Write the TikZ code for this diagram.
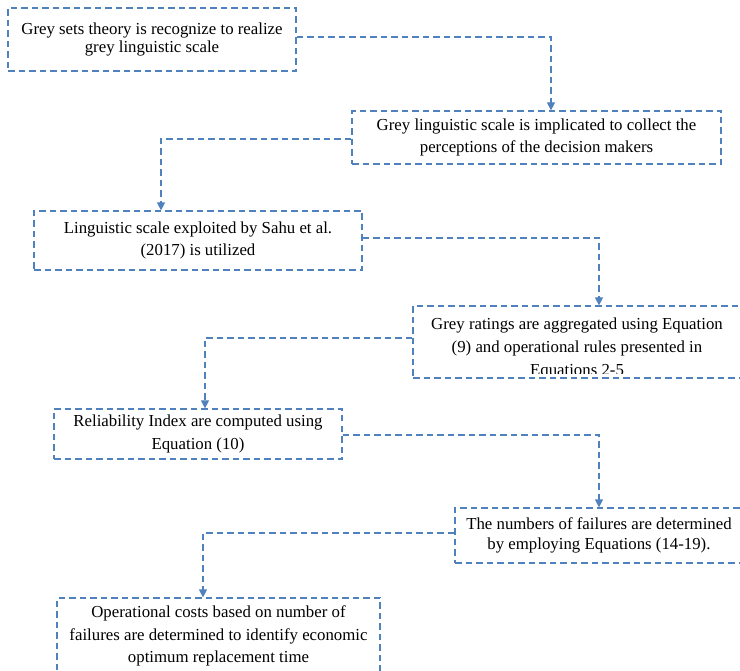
\documentclass[tikz,border=0pt]{standalone}
\usepackage{fontspec}
\setmainfont{Liberation Serif}
\usetikzlibrary{arrows.meta}
\definecolor{stageblue}{RGB}{79,129,189}
\begin{document}
\begin{tikzpicture}[x = 1pt, y = -1pt,
  stage/.style = {draw = stageblue, line width = 1.2pt, dash pattern = on 6.5pt off 4pt, inner sep = 0pt, align = center, font = \fontsize{16.8}{22.5}\selectfont},
  tight/.style = {font = \fontsize{16.8}{18.5}\selectfont},
  link/.style = {draw = stageblue, line width = 1.2pt, dash pattern = on 6.5pt off 4pt, -{Triangle[width = 8pt, length = 8pt, sep = 0pt]}}]
\useasboundingbox (0,0) rectangle (740,671);

\node[stage, tight, minimum width = 288pt, minimum height = 63pt] (theory) at (152,39.5) {Grey sets theory is recognize to realize\\grey linguistic scale};
\node[stage, minimum width = 369pt, minimum height = 53pt] (scale) at (536.5,137.5) {Grey linguistic scale is implicated to collect the\\perceptions of the decision makers};
\node[stage, minimum width = 328pt, minimum height = 59pt] (sahu) at (198,240.5) {Linguistic scale exploited by Sahu et al.\\(2017) is utilized};
\node[stage, minimum width = 347pt, minimum height = 72pt] (ratings) at (586.5,342) {};
\begin{scope}
\clip ([yshift = 5pt]ratings.south west) rectangle (ratings.north east);
\node[align = center, font = \fontsize{16.8}{23}\selectfont, inner sep = 0pt] at (577,348) {Grey ratings are aggregated using Equation\\(9) and operational rules presented in\\Equations 2-5};
\end{scope}
\node[stage, minimum width = 288pt, minimum height = 50pt] (index) at (198,434) {Reliability Index are computed using\\Equation (10)};
\node[stage, font = \fontsize{16.8}{20.5}\selectfont, minimum width = 288pt, minimum height = 55pt] (failures) at (599,535.5) {The numbers of failures are determined\\by employing Equations (14-19).};
\node[stage, minimum width = 323pt, minimum height = 76pt] (costs) at (218.5,636) {Operational costs based on number of\\failures are determined to identify economic\\optimum replacement time};

\draw[link] (theory.east |- 0,37) -| (scale.north -| 551,0);
\draw[link] (scale.west |- 0,139) -| (sahu.north -| 161,0);
\draw[link] (sahu.east |- 0,238) -| (ratings.north -| 599,0);
\draw[link] (ratings.west |- 0,338) -| (index.north -| 205,0);
\draw[link] (index.east |- 0,435) -| (failures.north -| 599,0);
\draw[link] (failures.west |- 0,533) -| (costs.north -| 203,0);

\end{tikzpicture}
\end{document}
